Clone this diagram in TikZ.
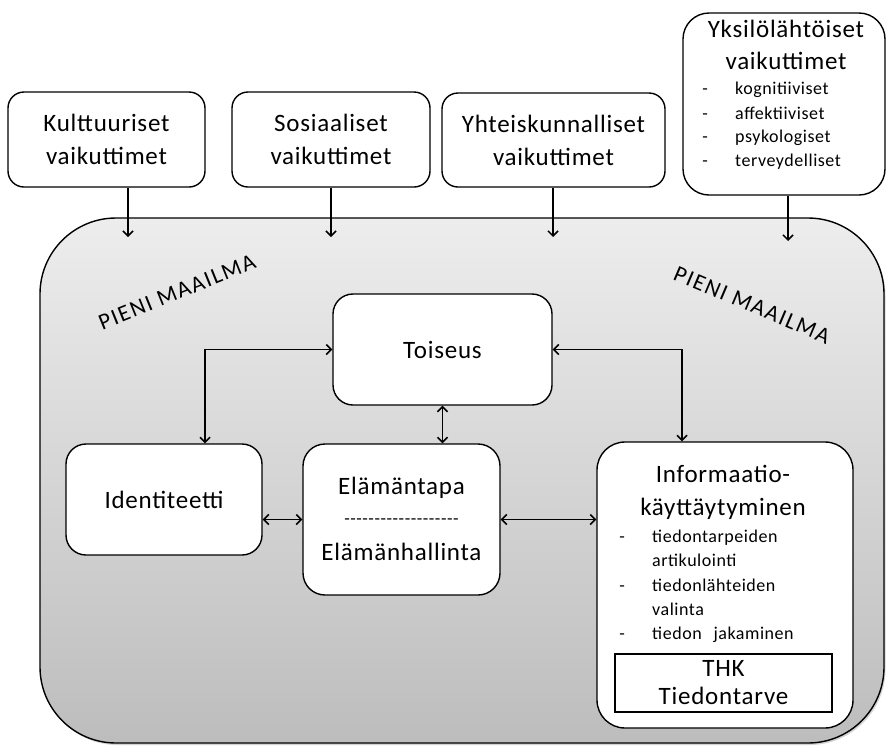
\documentclass[tikz,border=0pt]{standalone}
\usepackage{fontspec}
\setmainfont{Carlito}
\usetikzlibrary{arrows.meta,shadows}
\newcommand\mainf{\fontsize{25}{33}\selectfont\addfontfeature{LetterSpace=3}}
\newcommand\listf{\fontsize{18}{24}\selectfont\addfontfeature{LetterSpace=3}}
\newcommand\pienf{\fontsize{23}{28}\selectfont\addfontfeature{LetterSpace=7}}
\begin{document}
\begin{tikzpicture}[x=1pt,y=-1pt,
  box/.style={draw=black, line width=1.4pt, rounded corners=16pt, fill=white, inner sep=0pt},
  arr/.style={-{Straight Barb[length=5pt,width=10pt]}, line width=1.5pt},
  arrr/.style={{Straight Barb[length=5pt,width=10pt]}-{Straight Barb[length=5pt,width=10pt]}, line width=1.5pt},
  mt/.style={font=\mainf, align=center, inner sep=0pt},
  lt/.style={font=\listf, anchor=west, inner sep=0pt, text height=13pt, text depth=4pt},
  dt/.style={font=\listf, inner sep=0pt, text height=13pt, text depth=4pt},
]
\useasboundingbox (0,0) rectangle (886,745);

% big "pieni maailma" area
\node[draw=black, line width=1.4pt, rounded corners=76pt, top color=black!7, bottom color=black!26,
      minimum width=844pt, minimum height=525pt, inner sep=0pt,
      drop shadow={opacity=0.35, shadow xshift=1.5pt, shadow yshift=-2pt}] (big) at (462,480.5) {};
\node[font=\pienf, rotate=22] (pm1) at (177,292) {PIENI MAAILMA};
\node[font=\pienf, rotate=-23] (pm2) at (752,305) {PIENI MAAILMA};

% top influence boxes
\node[box, minimum width=197pt, minimum height=95pt, mt] (kult) at (106.5,139.5) {Kulttuuriset\\vaikuttimet};
\node[box, minimum width=198pt, minimum height=95pt, mt] (sos) at (331,139.5) {Sosiaaliset\\vaikuttimet};
\node[box, minimum width=223pt, minimum height=94pt, mt] (yht) at (553.5,140) {Yhteiskunnalliset\\vaikuttimet};
\node[box, rounded corners=26pt, minimum width=202pt, minimum height=182pt] (yks) at (784,104) {};
\node[mt] (yks1) at (786,29) {Yksilölähtöiset};
\node[mt] (yks2) at (786,61) {vaikuttimet};
\node[dt] (yd1) at (705,90) {-};
\node[dt] (yd2) at (705,115) {-};
\node[dt] (yd3) at (705,138) {-};
\node[dt] (yd4) at (705,162) {-};
\node[lt] (yl1) at (735,90) {kognitiiviset};
\node[lt] (yl2) at (735,115) {affektiiviset};
\node[lt] (yl3) at (735,138) {psykologiset};
\node[lt] (yl4) at (735,162) {terveydelliset};

% inner boxes
\node[box, rounded corners=20pt, minimum width=219pt, minimum height=111pt, mt] (toi) at (442.5,349.5) {Toiseus};
\node[box, rounded corners=20pt, minimum width=196pt, minimum height=111pt, mt] (ide) at (164,499.5) {Identiteetti};
\node[box, rounded corners=22pt, minimum width=197pt, minimum height=151pt] (ela) at (401.5,519.5) {};
\node[mt] (ela1) at (401.5,488) {Elämäntapa};
\node[font=\listf, inner sep=0pt, text height=13pt, text depth=4pt] (ela2) at (401.5,520) {-{}-{}-{}-{}-{}-{}-{}-{}-{}-{}-{}-{}-{}-{}-{}-{}-{}-{}-};
\node[mt] (ela3) at (401.5,552) {Elämänhallinta};

\node[box, rounded corners=28pt, minimum width=256pt, minimum height=286pt] (inf) at (725,585) {};
\node[mt] (inf1) at (723,474) {Informaatio-};
\node[mt] (inf2) at (723,509) {käyttäytyminen};
\node[dt] (id1) at (622,538) {-};
\node[dt] (id2) at (622,587) {-};
\node[dt] (id3) at (622,635) {-};
\node[lt] (il1) at (652,538) {tiedontarpeiden};
\node[lt] (il2) at (652,562) {artikulointi};
\node[lt] (il3) at (652,587) {tiedonlähteiden};
\node[lt] (il4) at (652,611) {valinta};
\node[lt] (il5) at (652,635) {tiedon\hspace{0.4em} jakaminen};
\node[draw=black, line width=1.3pt, fill=white, minimum width=217pt, minimum height=58pt,
      font=\mainf, align=center, inner sep=0pt] (thk) at (723.5,683) {\raisebox{-3pt}{THK}\\[-5pt]\raisebox{-3pt}{Tiedontarve}};

% arrows from the influences
\coordinate (kt) at (128,237);
\coordinate (st) at (331,237);
\coordinate (ht) at (553,237);
\coordinate (yt) at (788,241);
\draw[arr] (kult.south -| kt) -- (kt);
\draw[arr] (sos.south -| st) -- (st);
\draw[arr] (yht.south -| ht) -- (ht);
\draw[arr] (yks.south -| yt) -- (yt);

% arrows inside
\draw[arrr] (toi.west) -| ([xshift=41pt]ide.north);
\draw[arrr] (toi.east) -| ([xshift=-43pt]inf.north);
\draw[arrr] (toi.south) -- (toi.south |- ela.north);
\draw[arrr] (ide.east |- ela.west) -- (ela.west);
\draw[arrr] (ela.east) -- (ela.east -| inf.west);
\end{tikzpicture}
\end{document}
